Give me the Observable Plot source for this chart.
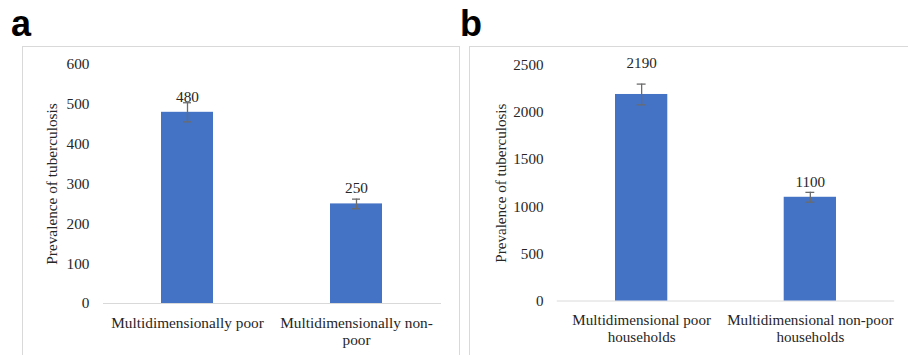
<!DOCTYPE html>
<html>
<head>
<meta charset="utf-8">
<script src="https://cdn.jsdelivr.net/npm/d3@7"></script>
<script src="https://cdn.jsdelivr.net/npm/@observablehq/plot@0.6"></script>
<style>
  html, body { margin: 0; padding: 0; background: #fff; }
  #root { position: relative; width: 908px; height: 355px; overflow: hidden; background: #fff; }
  .letter { position: absolute; font-family: "Liberation Sans", Arial, sans-serif; font-weight: bold; font-size: 36px; line-height: 36px; color: #000; }
  .panel { position: absolute; }
  .panel svg, .panel svg text { font-family: "Liberation Serif", "Times New Roman", serif !important; }
  .frame { position: absolute; border: 1px solid #d9d9d9; box-sizing: border-box; pointer-events: none; }
</style>
</head>
<body>
<div id="root">
  <div class="letter" style="left:11px; top:6px;">a</div>
  <div class="letter" style="left:460px; top:6px;">b</div>
  <div class="panel" id="pa" style="left:22px; top:46px;"></div>
  <div class="panel" id="pb" style="left:469px; top:46px;"></div>
  <div class="frame" style="left:22px; top:46px; width:438px; height:330px;"></div>
  <div class="frame" style="left:469px; top:46px; width:460px; height:330px;"></div>
</div>
<script>
// ---- Data ----
const categoriesA = ["Multidimensionally poor", "Multidimensionally non-poor"];
const tickLabelsA = ["Multidimensionally poor", "Multidimensionally non-\npoor"];
const valuesA = [480, 250];
const errorsA = [24, 12];
const yTicksA = [0, 100, 200, 300, 400, 500, 600];

const categoriesB = ["Multidimensional poor households", "Multidimensional non-poor households"];
const tickLabelsB = ["Multidimensional poor\nhouseholds", "Multidimensional non-poor\nhouseholds"];
const valuesB = [2190, 1100];
const errorsB = [110, 52];
const yTicksB = [0, 500, 1000, 1500, 2000, 2500];

const yLabel = "Prevalence of tuberculosis";

const BAR = "#4472C4";
const ERR = "#6b6b6b";
const TEXT = "#262626";
const FONT = "Liberation Serif";

function panel({cats, labels, values, errors, ticks, yMax, width, height, mLeft, mRight, mTop, mBottom, labelDx, valueDys}) {
  const data = cats.map((c, i) => ({cat: c, v: values[i], lo: values[i] - errors[i], hi: values[i] + errors[i], i}));
  const fmt = new Map(cats.map((c, i) => [c, labels[i]]));
  const textMarks = data.map((d, i) => Plot.text([d], {
    x: "cat", y: "v", text: d => String(d.v), dy: valueDys[i], fill: TEXT, fontSize: 15.3
  }));
  return Plot.plot({
    width, height,
    marginLeft: mLeft, marginRight: mRight, marginTop: mTop, marginBottom: mBottom,
    style: {fontFamily: FONT, fontSize: "15px", color: TEXT, background: "transparent"},
    x: {domain: cats, paddingInner: 0.69, paddingOuter: 0.345},
    y: {domain: [0, yMax]},
    marks: [
      Plot.axisY({ticks, tickSize: 0, tickPadding: 14, label: null, fontSize: 15.3, tickFormat: d => String(d)}),
      Plot.axisX({tickSize: 0, tickPadding: 13, label: null, fontSize: 15.3, lineHeight: 1.08,
        tickFormat: d => fmt.get(d)}),
      Plot.text([yLabel], {frameAnchor: "left", textAnchor: "middle", dx: labelDx, rotate: -90, fill: TEXT, fontSize: 15.3}),
      Plot.ruleY([0], {stroke: "#d9d9d9", strokeWidth: 1}),
      Plot.barY(data, {x: "cat", y: "v", fill: BAR}),
      Plot.ruleX(data, {x: "cat", y1: "lo", y2: "hi", stroke: ERR, strokeWidth: 1.3}),
      Plot.tickY(data, {x: "cat", y: "lo", stroke: ERR, strokeWidth: 1.3, insetLeft: 22, insetRight: 22}),
      Plot.tickY(data, {x: "cat", y: "hi", stroke: ERR, strokeWidth: 1.3, insetLeft: 22, insetRight: 22}),
      ...textMarks
    ]
  });
}

document.getElementById("pa").appendChild(panel({
  cats: categoriesA, labels: tickLabelsA, values: valuesA, errors: errorsA, ticks: yTicksA, yMax: 600,
  width: 438, height: 330, mLeft: 81, mRight: 19, mTop: 18, mBottom: 73, labelDx: -51,
  valueDys: [-15, -16]
}));
document.getElementById("pb").appendChild(panel({
  cats: categoriesB, labels: tickLabelsB, values: valuesB, errors: errorsB, ticks: yTicksB, yMax: 2500,
  width: 445, height: 330, mLeft: 89, mRight: 14, mTop: 19, mBottom: 72, labelDx: -57,
  valueDys: [-32, -15]
}));
</script>
</body>
</html>
